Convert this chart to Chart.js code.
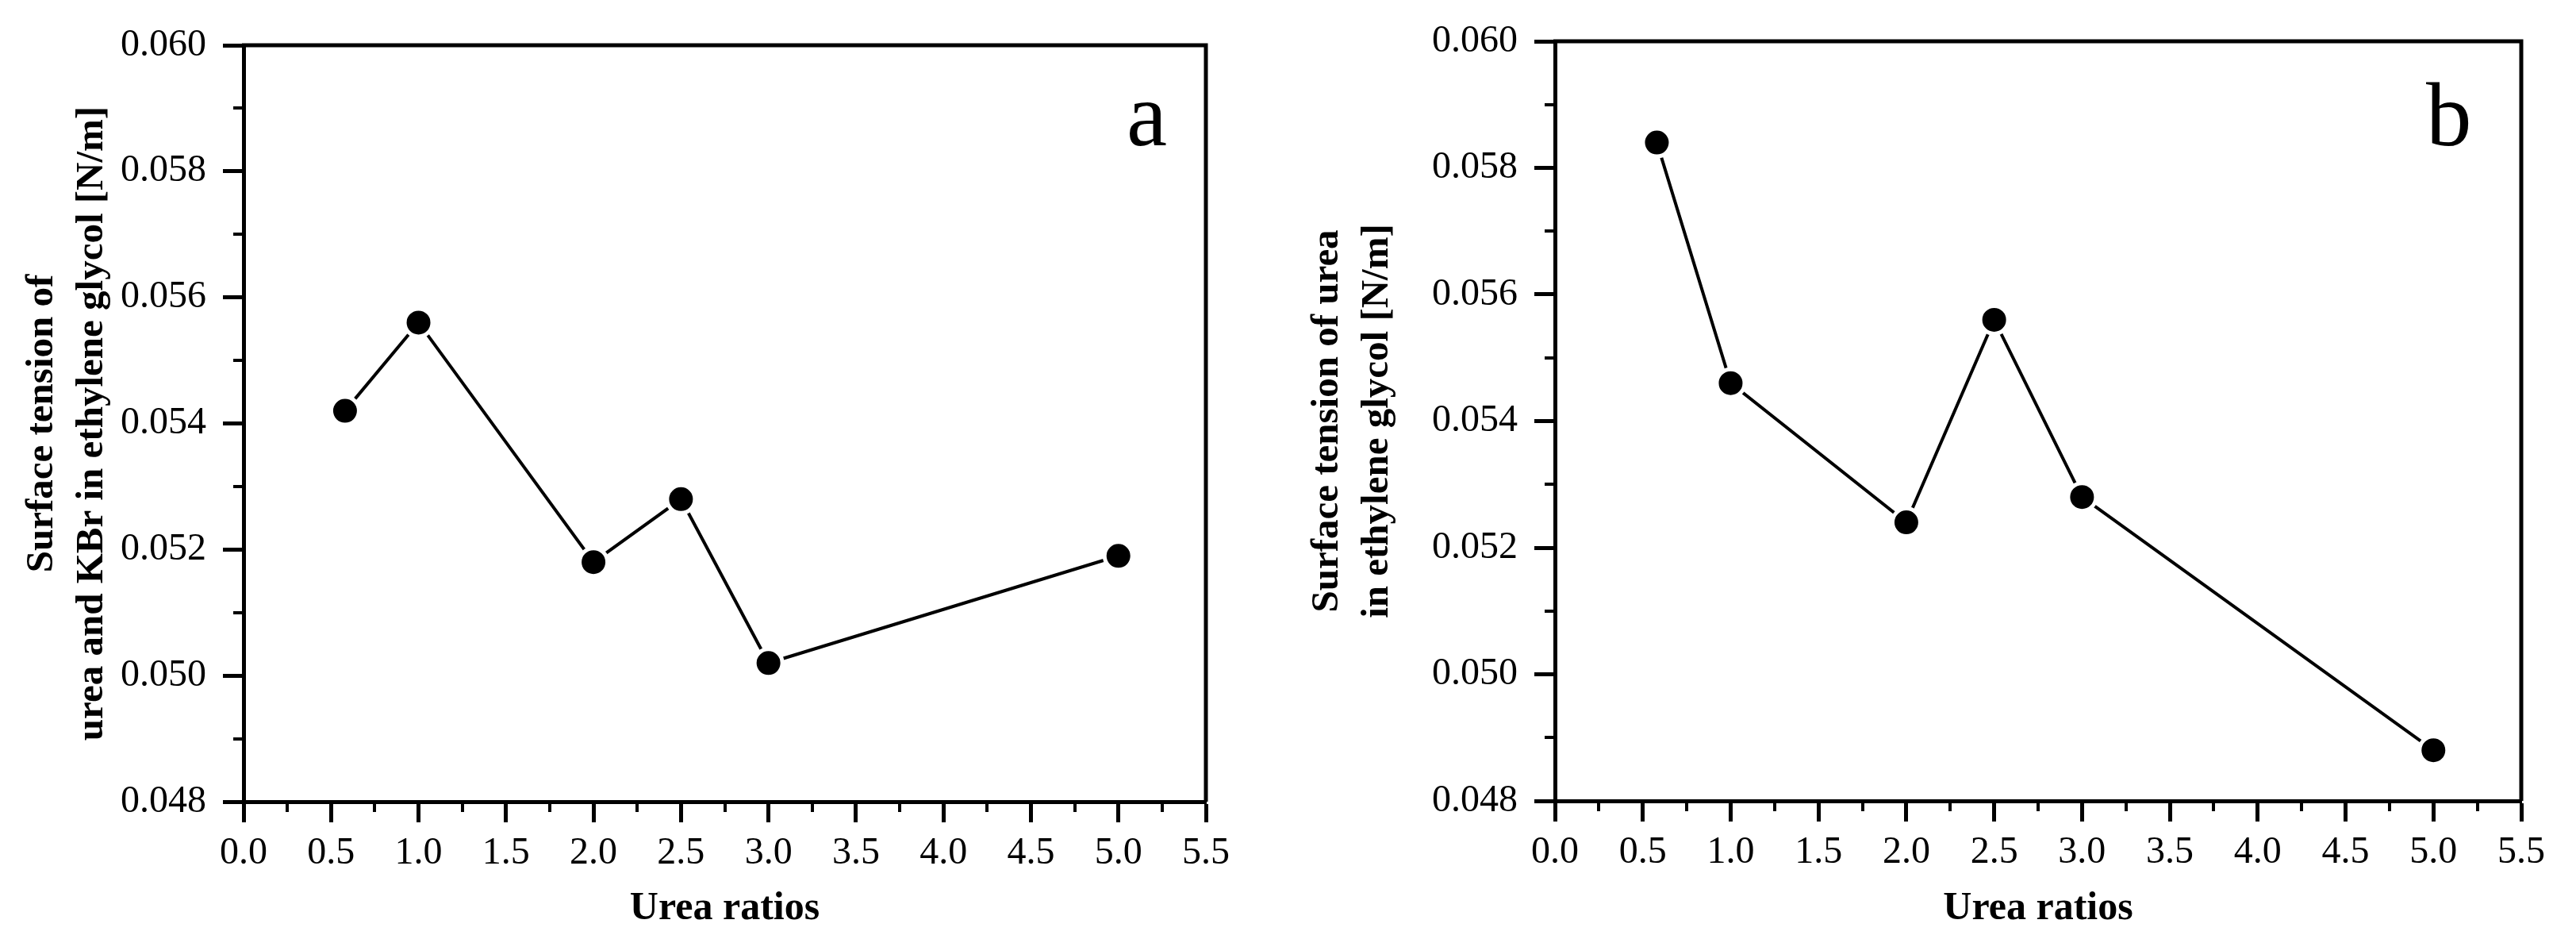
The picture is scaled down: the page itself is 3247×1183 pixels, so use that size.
<!DOCTYPE html>
<html>
<head>
<meta charset="utf-8">
<script src="https://cdn.jsdelivr.net/npm/chart.js@4"></script>
<style>
  html, body { margin: 0; padding: 0; background: #fff; }
  body { width: 3247px; height: 1183px; position: relative; overflow: hidden; }
  canvas { position: absolute; top: 0; }
  #chartA { left: 0; }
  #chartB { left: 1600px; }
</style>
</head>
<body>
<canvas id="chartA" width="1600" height="1183"></canvas>
<canvas id="chartB" width="1647" height="1183"></canvas>
<script>
// urea ratios (x) and surface tension values
const ureaRatios = [0.58, 1.0, 2.0, 2.5, 3.0, 5.0];
const tensionKBr = [0.0542, 0.0556, 0.0518, 0.0528, 0.0502, 0.0519];
const tensionUrea = [0.0584, 0.0546, 0.0524, 0.0556, 0.0528, 0.0488];

const xTickLabels = ['0.0', '0.5', '1.0', '1.5', '2.0', '2.5', '3.0', '3.5', '4.0', '4.5', '5.0', '5.5'];
const yTickLabels = ['0.048', '0.050', '0.052', '0.054', '0.056', '0.058', '0.060'];

const SERIF = '"Liberation Serif", "Times New Roman", serif';

// draws the top/right frame, the short minor ticks and the panel letter
const framePlugin = {
    id: 'frame',
    afterDraw(chart, args, opts) {
        const ctx = chart.ctx;
        const { left, right, top, bottom } = chart.chartArea;
        const xs = chart.scales.x, ys = chart.scales.y;
        ctx.save();
        ctx.strokeStyle = '#000';
        ctx.lineWidth = 5;
        ctx.beginPath();
        ctx.moveTo(left - 2, top);
        ctx.lineTo(right, top);
        ctx.lineTo(right, bottom);
        ctx.stroke();

        // minor ticks
        ctx.lineWidth = 4;
        ctx.beginPath();
        for (let v = xs.min + 0.25; v < xs.max; v += 0.5) {
            const px = Math.round(xs.getPixelForValue(v));
            ctx.moveTo(px, bottom);
            ctx.lineTo(px, bottom + 13);
        }
        for (let v = ys.min + 0.001; v < ys.max; v += 0.002) {
            const py = Math.round(ys.getPixelForValue(v));
            ctx.moveTo(left, py);
            ctx.lineTo(left - 13, py);
        }
        ctx.stroke();

        ctx.fillStyle = '#000';
        ctx.font = '115px ' + SERIF;
        ctx.textBaseline = 'alphabetic';
        ctx.textAlign = 'left';
        ctx.fillText(opts.letter, opts.lx, opts.ly);
        ctx.restore();
    }
};

function makeChart(id, values, yTitle, geom) {
    const ctx = document.getElementById(id).getContext('2d');
    return new Chart(ctx, {
        type: 'line',
        data: {
            datasets: [{
                data: ureaRatios.map((x, i) => ({ x: x, y: values[i] })),
                borderColor: '#000',
                borderWidth: 4,
                tension: 0,
                pointRadius: 17.5,
                pointHoverRadius: 17.5,
                pointBackgroundColor: '#000',
                pointBorderColor: '#fff',
                pointBorderWidth: 5
            }]
        },
        options: {
            responsive: false,
            animation: false,
            devicePixelRatio: 1,
            layout: {
                padding: { left: 0, top: geom.top, right: geom.right, bottom: 0 }
            },
            plugins: {
                legend: { display: false },
                tooltip: { enabled: false },
                frame: { letter: geom.letter, lx: geom.lx, ly: geom.ly }
            },
            scales: {
                x: {
                    type: 'linear',
                    min: 0,
                    max: 5.5,
                    afterFit: s => { s.height = geom.xHeight; },
                    border: { display: true, color: '#000', width: 5 },
                    grid: {
                        display: true,
                        drawOnChartArea: false,
                        drawTicks: true,
                        tickLength: 26,
                        tickWidth: 5,
                        tickColor: '#000'
                    },
                    ticks: {
                        stepSize: 0.5,
                        padding: 11,
                        color: '#000',
                        maxRotation: 0,
                        font: { family: SERIF, size: 48 },
                        callback: (v, i) => xTickLabels[i]
                    },
                    title: {
                        display: true,
                        text: 'Urea ratios',
                        color: '#000',
                        font: { family: SERIF, size: 50, weight: 'bold' },
                        padding: { top: 0, bottom: 8 }
                    }
                },
                y: {
                    type: 'linear',
                    min: 0.048,
                    max: 0.060,
                    afterFit: s => { s.width = geom.yWidth; },
                    border: { display: true, color: '#000', width: 5 },
                    grid: {
                        display: true,
                        drawOnChartArea: false,
                        drawTicks: true,
                        tickLength: 26,
                        tickWidth: 5,
                        tickColor: '#000'
                    },
                    ticks: {
                        stepSize: 0.002,
                        padding: 21,
                        color: '#000',
                        font: { family: SERIF, size: 48 },
                        callback: (v, i) => yTickLabels[i]
                    },
                    title: {
                        display: true,
                        text: yTitle,
                        color: '#000',
                        font: { family: SERIF, size: 49, weight: 'bold', lineHeight: geom.titleLine },
                        padding: { top: geom.titlePad, bottom: 0 }
                    }
                }
            }
        },
        plugins: [framePlugin]
    });
}

makeChart('chartA', tensionKBr,
    ['Surface tension of', 'urea and KBr in ethylene glycol [N/m]'],
    { top: 57, right: 80, xHeight: 173, yWidth: 307, titleLine: '63px', titlePad: 22,
      letter: 'a', lx: 1420, ly: 183 });

makeChart('chartB', tensionUrea,
    ['Surface tension of urea', 'in ethylene glycol [N/m]'],
    { top: 52, right: 69, xHeight: 174, yWidth: 360, titleLine: '63px', titlePad: 42,
      letter: 'b', lx: 1458, ly: 183 });
</script>
</body>
</html>
